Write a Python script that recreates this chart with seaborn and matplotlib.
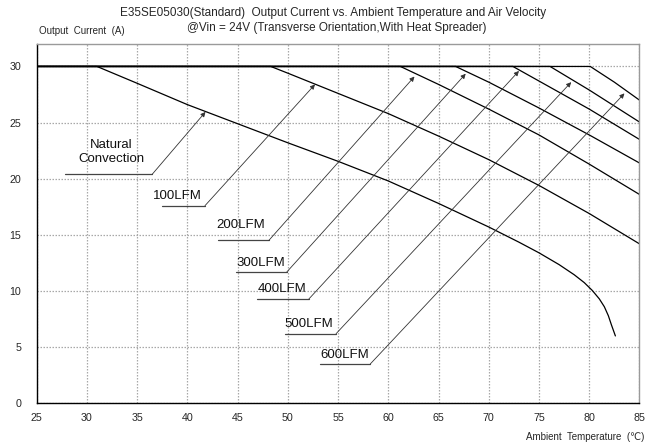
import matplotlib
matplotlib.use("Agg")
import matplotlib.pyplot as plt
import seaborn as sns
import pandas as pd

# ---- data ----
series = ["Natural Convection", "100LFM", "200LFM", "300LFM", "400LFM", "500LFM", "600LFM"]
temp_nc = [25, 31, 35, 40, 45, 50, 55, 60, 65, 70, 73, 75, 77, 78.5, 79.5, 80.3, 81.0, 81.5, 81.9, 82.2, 82.6]
curr_nc = [30, 30, 28.5, 26.6, 24.9, 23.2, 21.55, 19.8, 17.8, 15.7, 14.35, 13.4, 12.35, 11.45, 10.75, 10.05, 9.3, 8.6, 7.8, 7.0, 6.0]
temp_100 = [25, 48.3, 50, 55, 60, 65, 70, 75, 80, 85]
curr_100 = [30, 30, 29.4, 27.6, 25.8, 23.8, 21.7, 19.4, 16.9, 14.2]
temp_200 = [25, 61.2, 65, 70, 75, 80, 85]
curr_200 = [30, 30, 28.4, 26.2, 23.9, 21.3, 18.6]
temp_300 = [25, 66.7, 70, 75, 80, 85]
curr_300 = [30, 30, 28.6, 26.3, 23.9, 21.4]
temp_400 = [25, 72.4, 75, 80, 85]
curr_400 = [30, 30, 28.7, 26.2, 23.5]
temp_500 = [25, 76.1, 80, 85]
curr_500 = [30, 30, 27.9, 25.05]
temp_600 = [25, 80.1, 82.5, 85]
curr_600 = [30, 30, 28.6, 27.0]

labels = ["Natural\nConvection", "100LFM", "200LFM", "300LFM", "400LFM", "500LFM", "600LFM"]
label_x = [32.4, 39.0, 45.3, 47.3, 49.4, 52.1, 55.7]
label_y = [22.4, 18.5, 15.9, 12.5, 10.2, 7.1, 4.3]
line_x0 = [27.8, 37.5, 43.0, 44.8, 46.9, 49.7, 53.2]
line_x1 = [36.5, 41.75, 48.1, 49.9, 52.1, 54.8, 58.2]
line_y = [20.4, 17.6, 14.5, 11.7, 9.3, 6.2, 3.5]
arrow_x = [41.8, 52.7, 62.6, 67.7, 73.0, 78.2, 83.5]
arrow_y = [25.95, 28.4, 29.1, 29.35, 29.6, 28.6, 27.6]

x_ticks = list(range(25, 86, 5))
y_ticks = list(range(0, 31, 5))

# ---- build table ----
temps = [temp_nc, temp_100, temp_200, temp_300, temp_400, temp_500, temp_600]
currs = [curr_nc, curr_100, curr_200, curr_300, curr_400, curr_500, curr_600]
rows = []
for name, tt, cc in zip(series, temps, currs):
    for i, (t, c) in enumerate(zip(tt, cc)):
        rows.append({"series": name, "order": i, "temp": t, "curr": c})
df = pd.DataFrame(rows)

sns.set_style("white")
plt.rcParams["font.family"] = ["Liberation Sans", "DejaVu Sans"]

fig = plt.figure(figsize=(6.46, 4.45), dpi=100)
ax = fig.add_axes([36.7 / 646, 1 - 403.3 / 445, (639.5 - 36.7) / 646, (403.3 - 44) / 445])

sns.lineplot(data=df, x="temp", y="curr", hue="series", units="series", estimator=None,
             sort=False, palette=["black"] * len(series), legend=False, lw=0.9, ax=ax)
for ln in ax.get_lines():
    ln.set_solid_joinstyle("round")

ax.set_xlim(25, 85)
ax.set_ylim(0, 32)
ax.set_xticks(x_ticks)
ax.set_yticks(y_ticks)
ax.set_xticks(range(25, 86), minor=True)
ax.set_yticks(range(0, 33), minor=True)
ax.tick_params(which="both", direction="in", color="black")
ax.tick_params(which="major", length=3, width=0.8, labelsize=7.7, pad=7)
ax.tick_params(axis="y", which="major", pad=11)
ax.tick_params(which="minor", length=2.5, width=0.8)
ax.tick_params(top=False, right=False, which="both")
ax.grid(True, which="major", color="#a8a8a8", linestyle=(0, (1.2, 1.2)), linewidth=0.9)
ax.set_axisbelow(True)
ax.set_xlabel("")
ax.set_ylabel("")
for s in ["left", "bottom"]:
    ax.spines[s].set_color("black")
    ax.spines[s].set_linewidth(1.0)
for s in ["top", "right"]:
    ax.spines[s].set_color("#9a9a9a")
    ax.spines[s].set_linewidth(1.0)

for i in range(len(labels)):
    ax.text(label_x[i], label_y[i], labels[i], ha="center", va="center", fontsize=9.5,
            color="#111111", linespacing=1.25)
    ax.plot([line_x0[i], line_x1[i]], [line_y[i], line_y[i]], color="#444444", lw=0.9)
    ax.annotate("", xy=(arrow_x[i], arrow_y[i]), xytext=(line_x1[i], line_y[i]),
                arrowprops=dict(arrowstyle="-|>", color="#333333", lw=0.6,
                                mutation_scale=7, shrinkA=0, shrinkB=0))

fig.text(333 / 646, 1 - 13 / 445, "E35SE05030(Standard)  Output Current vs. Ambient Temperature and Air Velocity",
         ha="center", va="center", fontsize=8.5)
fig.text(337 / 646, 1 - 28 / 445, "@Vin = 24V (Transverse Orientation,With Heat Spreader)",
         ha="center", va="center", fontsize=8.5)
fig.text(39 / 646, 1 - 31 / 445, "Output  Current  (A)", ha="left", va="center", fontsize=7)
fig.text(644 / 646, 1 - 437 / 445, "Ambient  Temperature  (℃)", ha="right", va="center", fontsize=7)

fig.savefig("out.png", dpi=100)
